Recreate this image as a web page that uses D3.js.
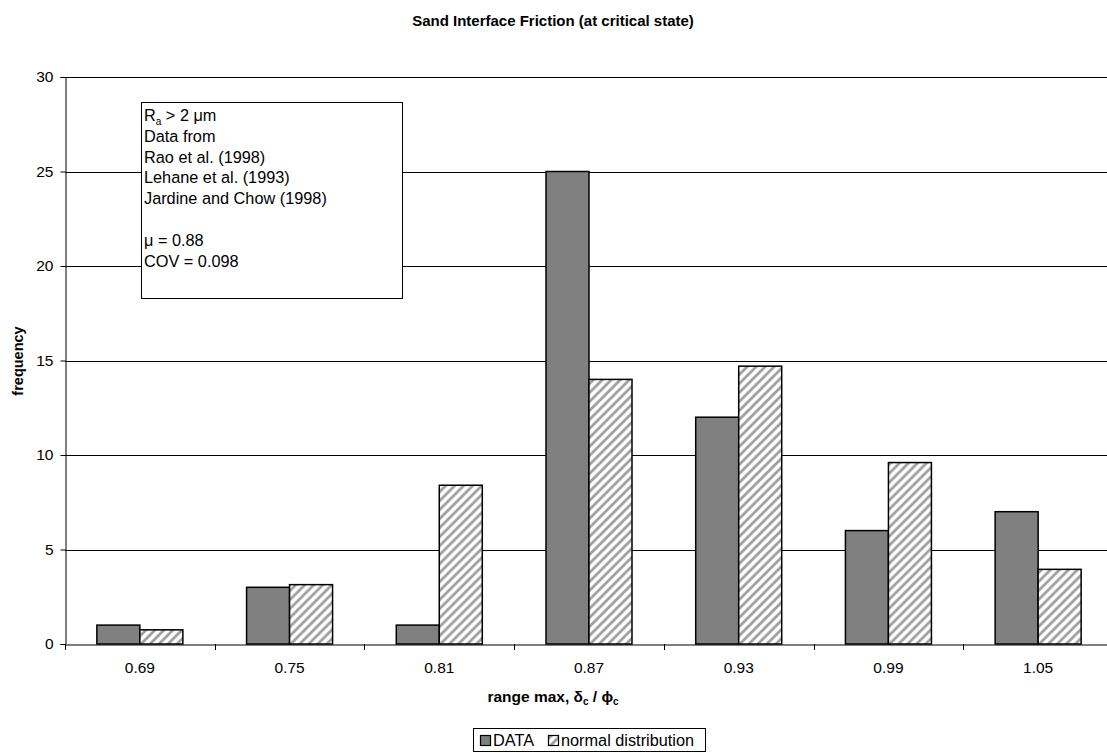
<!DOCTYPE html>
<html>
<head>
<meta charset="utf-8">
<script src="https://cdn.jsdelivr.net/npm/d3@7/dist/d3.min.js"></script>
<style>
  html, body { margin: 0; padding: 0; background: #fff; overflow: hidden; }
  svg { display: block; font-family: "Liberation Sans", Arial, sans-serif; }
</style>
</head>
<body>
<svg id="chart" width="1107" height="753"></svg>
<script>
const categories = ["0.69", "0.75", "0.81", "0.87", "0.93", "0.99", "1.05"];
const dataValues = [1, 3, 1, 25, 12, 6, 7];
const normalValues = [0.75, 3.14, 8.4, 14.0, 14.7, 9.6, 3.95];
const seriesNames = ["DATA", "normal distribution"];
const yTicks = [0, 5, 10, 15, 20, 25, 30];
const noteLines = ["Data from", "Rao et al. (1998)", "Lehane et al. (1993)", "Jardine and Chow (1998)"];

(function () {
const svg = d3.select("#chart");
const pLeft = 65, pRight = 1113, pTop = 77, pBottom = 644;

const defs = svg.append("defs");
const pat = defs.append("pattern").attr("id", "hatch")
  .attr("patternUnits", "userSpaceOnUse").attr("width", 9).attr("height", 9);
pat.append("rect").attr("width", 9).attr("height", 9).attr("fill", "#fff");
pat.append("path").attr("d", "M-2,2 L2,-2 M0,9 L9,0 M7,11 L11,7")
  .attr("stroke", "#a0a0a0").attr("stroke-width", 2.8);

const x = d3.scaleBand().domain(categories).range([pLeft, pRight]).padding(0);
const groupW = 86;
const xs = d3.scaleBand().domain(seriesNames)
  .range([(x.step() - groupW) / 2, (x.step() + groupW) / 2]).padding(0);
const y = d3.scaleLinear().domain([0, 30]).range([pBottom, pTop]);

// gridlines
svg.append("g").selectAll("line").data(yTicks.filter(d => d > 0)).join("line")
  .attr("x1", pLeft).attr("x2", pRight)
  .attr("y1", d => Math.round(y(d)) + 0.5).attr("y2", d => Math.round(y(d)) + 0.5)
  .attr("stroke", "#000").attr("stroke-width", 1);

// bars
const rows = categories.map((c, i) => ({ c, vals: [dataValues[i], normalValues[i]] }));
const g = svg.append("g").selectAll("g").data(rows).join("g")
  .attr("transform", d => `translate(${x(d.c)},0)`);
g.selectAll("rect").data(d => d.vals.map((v, j) => ({ v, s: seriesNames[j] }))).join("rect")
  .attr("x", d => xs(d.s)).attr("width", xs.bandwidth())
  .attr("y", d => y(d.v)).attr("height", d => y(0) - y(d.v))
  .attr("fill", d => d.s === "DATA" ? "#808080" : "url(#hatch)")
  .attr("stroke", "#000").attr("stroke-width", 1.5);

// y axis
const yAxis = svg.append("g").attr("transform", `translate(${pLeft + 0.5},0)`)
  .call(d3.axisLeft(y).tickValues(yTicks).tickSize(5).tickPadding(7));
yAxis.select(".domain").attr("stroke", "#000");
yAxis.selectAll(".tick line").attr("stroke", "#000");
yAxis.selectAll("text").attr("font-size", 15.5).attr("fill", "#000")
  .attr("font-family", "Liberation Sans, Arial, sans-serif");

// x axis
const xAxis = svg.append("g").attr("transform", `translate(0,${pBottom + 0.5})`)
  .call(d3.axisBottom(x).tickSize(0).tickPadding(17));
xAxis.select(".domain").attr("stroke", "#000");
xAxis.selectAll("text").attr("font-size", 15.5).attr("fill", "#000")
  .attr("font-family", "Liberation Sans, Arial, sans-serif");
// category boundary ticks
svg.append("g").selectAll("line").data(categories).join("line")
  .attr("x1", d => Math.round(x(d)) + 0.5).attr("x2", d => Math.round(x(d)) + 0.5)
  .attr("y1", pBottom).attr("y2", pBottom + 6).attr("stroke", "#000");

// title
svg.append("text").attr("x", 553).attr("y", 26).attr("text-anchor", "middle")
  .attr("font-weight", "bold").attr("font-size", 15).text("Sand Interface Friction (at critical state)");

// y label
svg.append("text").attr("transform", "translate(23,361) rotate(-90)").attr("text-anchor", "middle")
  .attr("font-weight", "bold").attr("font-size", 14.5).text("frequency");

// x label
const xl = svg.append("text").attr("x", 553).attr("y", 702).attr("text-anchor", "middle")
  .attr("font-weight", "bold").attr("font-size", 15.5);
xl.append("tspan").text("range max, δ");
xl.append("tspan").attr("font-size", 10).attr("dy", 3).text("c");
xl.append("tspan").attr("dy", -3).text(" / ϕ");
xl.append("tspan").attr("font-size", 10).attr("dy", 3).text("c");

// annotation box
svg.append("rect").attr("x", 141.5).attr("y", 102.5).attr("width", 261).attr("height", 196)
  .attr("fill", "#fff").attr("stroke", "#000").attr("stroke-width", 1);
const tx = 144, fs = 16.3, lh = 20.8, base = 121;
const t0 = svg.append("text").attr("x", tx).attr("y", base).attr("font-size", fs);
t0.append("tspan").text("R");
t0.append("tspan").attr("font-size", 10).attr("dy", 4).text("a");
t0.append("tspan").attr("dy", -4).text(" > 2 μm");
svg.append("g").selectAll("text").data(noteLines).join("text")
  .attr("x", tx).attr("y", (d, i) => base + lh * (i + 1)).attr("font-size", fs).text(d => d);
svg.append("text").attr("x", tx).attr("y", base + lh * 6).attr("font-size", fs).text("μ = 0.88");
svg.append("text").attr("x", tx).attr("y", base + lh * 7).attr("font-size", fs).text("COV = 0.098");

// legend
const lg = svg.append("g");
lg.append("rect").attr("x", 473.5).attr("y", 728.5).attr("width", 232).attr("height", 23)
  .attr("fill", "#fff").attr("stroke", "#000");
const legItems = [{ s: "DATA", x: 480 }, { s: "normal distribution", x: 548 }];
legItems.forEach(it => {
  lg.append("rect").attr("x", it.x + 0.5).attr("y", 735.5).attr("width", 10).attr("height", 10)
    .attr("fill", it.s === "DATA" ? "#808080" : "url(#hatch)").attr("stroke", "#000").attr("stroke-width", 1.2);
  lg.append("text").attr("x", it.x + 13).attr("y", 746).attr("font-size", 16.3).text(it.s);
});
})();
</script>
</body>
</html>
